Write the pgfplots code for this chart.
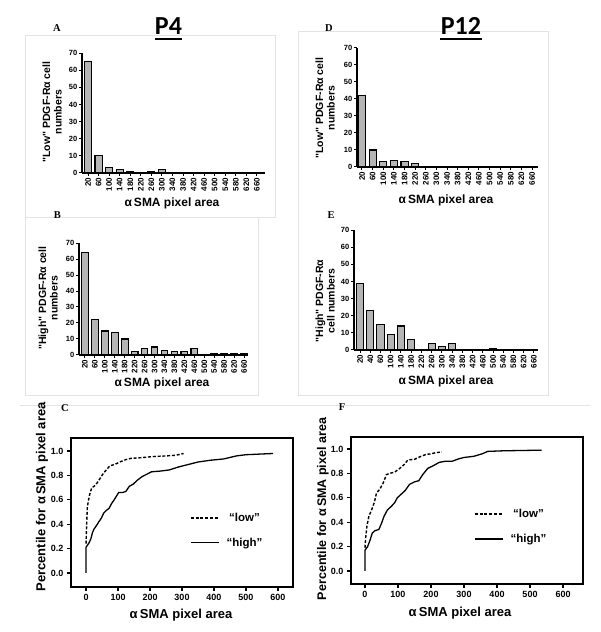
\documentclass[border=0pt]{standalone}
\usepackage{pgfplots}
\pgfplotsset{compat=1.18}
\usepackage{fontspec}
\setmainfont{Liberation Sans}
\newfontfamily\timesf{Liberation Serif}
\newfontfamily\calib{Carlito}
\newcommand\bt{\fontsize{7.5}{8}\selectfont\bfseries}
\newcommand\bx{\fontsize{8}{8}\selectfont\bfseries}
\newcommand\ct{\fontsize{9}{10}\selectfont\bfseries}
\newcommand\q{\textquotedbl}
\pgfplotsset{
 bars/.style={scale only axis, anchor=south west, ybar, bar width=0.67,
  ymin=0, ymax=70, ytick={0,10,...,70},
  axis lines=left, axis line style={-, line width=1.3pt},
  tick align=outside, major tick length=3pt, tick style={line width=1pt, black},
  xtick={0,...,16},
  x tick label style={rotate=90, anchor=east, font=\bx, inner sep=1.5pt},
  y tick label style={font=\bt, inner sep=1.5pt},
  /pgf/number format/assume math mode=true,
  xticklabels={20,60,100,140,180,220,260,300,340,380,420,460,500,540,580,620,660},
 },
 barfill/.style={fill=gray!58, draw=black, line width=1.1pt},
 cdf/.style={scale only axis, anchor=south west,
  axis line style={line width=1.5pt},
  xtick={0,100,...,600}, ytick={0,0.2,0.4,0.6,0.8,1.0},
  yticklabel style={/pgf/number format/fixed,/pgf/number format/fixed zerofill,/pgf/number format/precision=1},
  tick align=outside, xtick pos=bottom, ytick pos=left,
  major tick length=4pt, tick style={line width=1.2pt, black},
  tick label style={font=\ct},
  /pgf/number format/assume math mode=true,
  legend image code/.code={\draw[#1] (0pt,0pt) -- (28pt,0pt);},
  legend style={draw=none, fill=none, font=\fontsize{11.5}{12}\selectfont\bfseries,
   row sep=13pt, column sep=6pt, inner sep=0pt, nodes={inner sep=1pt}, anchor=north west},
 },
}
\begin{document}
\begin{tikzpicture}[x=1pt,y=1pt]
\useasboundingbox (0,0) rectangle (600,632);
% faint panel frames
\draw[gray!22, line width=0.6pt] (25,597) rectangle (275,415);
\draw[gray!22, line width=0.6pt] (25,415) -- (25,237) -- (258,237) -- (258,415);
\draw[gray!22, line width=0.6pt] (298,601) rectangle (548,237);
\draw[gray!22, line width=0.6pt] (20,227) -- (590,227);
% titles
\node[font=\calib\fontsize{26}{28}\selectfont\bfseries, anchor=base] at (168.5,597) {P4};
\draw[line width=2pt] (155,593) -- (182,593);
\node[font=\calib\fontsize{26}{28}\selectfont\bfseries, anchor=base] at (461,597) {P12};
\draw[line width=2pt] (440,593) -- (482,593);
% panel letters
\node[font=\timesf\fontsize{10.5}{11}\selectfont\bfseries] at (57,603.5) {A};
\node[font=\timesf\fontsize{10.5}{11}\selectfont\bfseries] at (329,604) {D};
\node[font=\timesf\fontsize{10.5}{11}\selectfont\bfseries] at (57.5,417) {B};
\node[font=\timesf\fontsize{10.5}{11}\selectfont\bfseries] at (331,417) {E};
\node[font=\timesf\fontsize{10.5}{11}\selectfont\bfseries] at (65,224) {C};
\node[font=\timesf\fontsize{10.5}{11}\selectfont\bfseries] at (342,225) {F};

% Panel A
\begin{axis}[bars, at={(82pt,459pt)}, width=183pt, height=120pt, xmin=-0.57, xmax=16.76]
\addplot[barfill] coordinates {(0,65) (1,10) (2,3) (3,2) (4,1) (6,1) (7,2)};
\end{axis}
\node[font=\fontsize{10.5}{11.5}\selectfont\bfseries, rotate=90, align=center] at (52,520) {\q Low\q{} PDGF-Rα cell\\numbers};
\node[font=\fontsize{12}{13}\selectfont\bfseries] at (172,429) {α\,SMA pixel area};

% Panel B
\begin{axis}[bars, at={(79pt,277pt)}, width=169pt, height=112pt, xmin=-0.6, xmax=16.4]
\addplot[barfill] coordinates {(0,64) (1,22) (2,15) (3,14) (4,10) (5,2) (6,4) (7,5) (8,3) (9,2) (10,2) (11,4) (13,1) (14,1) (15,1) (16,1)};
\end{axis}
\node[font=\fontsize{10.5}{11.5}\selectfont\bfseries, rotate=90, align=center] at (48,334) {\q High\q{} PDGF-Rα cell\\numbers};
\node[font=\fontsize{12}{13}\selectfont\bfseries] at (162,249) {α\,SMA pixel area};

% Panel D
\begin{axis}[bars, at={(357pt,465pt)}, width=181pt, height=119pt, xmin=-0.47, xmax=16.56]
\addplot[barfill] coordinates {(0,42) (1,10) (2,3) (3,4) (4,3) (5,2)};
\end{axis}
\node[font=\fontsize{10.5}{11.5}\selectfont\bfseries, rotate=90, align=center] at (325,524) {\q Low\q{} PDGF-Rα cell\\numbers};
\node[font=\fontsize{12}{13}\selectfont\bfseries] at (446,432) {α\,SMA pixel area};

% Panel E
\begin{axis}[bars, at={(354pt,282pt)}, width=184pt, height=120pt, xmin=-0.59, xmax=17.4, bar width=0.7,
  xtick={0,...,17}, xticklabels={20,40,60,100,140,180,220,260,300,340,380,420,460,500,540,580,620,660}]
\addplot[barfill] coordinates {(0,39) (1,23) (2,15) (3,9) (4,14) (5,6) (7,4) (8,2) (9,4) (13,1)};
\end{axis}
\node[font=\fontsize{10.5}{11.5}\selectfont\bfseries, rotate=90, align=center] at (325,331) {\q High\q{} PDGF-Rα\\cell numbers};
\node[font=\fontsize{12}{13}\selectfont\bfseries] at (446,251) {α\,SMA pixel area};

% Panel C
\begin{axis}[cdf, at={(71pt,45pt)}, width=222pt, height=149pt, xmin=-47, xmax=647, ymin=-0.115, ymax=1.107,
  legend style={at={(axis description cs:0.536,0.505)}}]
\addplot[black, line width=1.4pt, dash pattern=on 3pt off 1.8pt] coordinates {
(0,0.24) (2,0.40) (4,0.54) (8,0.60) (12,0.65) (18,0.70) (25,0.71) (35,0.74) (45,0.78) (55,0.82) (65,0.85) (75,0.88) (90,0.89) (105,0.91) (125,0.93) (140,0.94) (170,0.945) (210,0.955) (250,0.96) (280,0.965) (305,0.98)};
\addlegendentry{“low”}
\addplot[black, line width=1.3pt] coordinates {
(0,0.0) (0,0.21) (5,0.23) (10,0.25) (15,0.28) (20,0.33) (25,0.36) (33,0.39) (40,0.42) (48,0.45) (55,0.49) (62,0.51) (72,0.53) (80,0.57) (88,0.60) (95,0.63) (102,0.66) (115,0.66) (125,0.67) (135,0.71) (148,0.73) (160,0.76) (175,0.79) (190,0.81) (205,0.83) (230,0.835) (260,0.845) (290,0.87) (320,0.89) (350,0.91) (390,0.925) (430,0.935) (470,0.96) (500,0.97) (585,0.98)};
\addlegendentry{“high”}
\end{axis}
\node[font=\fontsize{13}{14}\selectfont\bfseries, rotate=90] at (42,135) {Percentile for α\,SMA pixel area};
\node[font=\fontsize{13}{14}\selectfont\bfseries] at (181,17) {α\,SMA pixel area};

% Panel F
\begin{axis}[cdf, at={(351pt,48pt)}, width=232pt, height=147pt, xmin=-42.4, xmax=660.6, ymin=-0.107, ymax=1.098,
  legend style={at={(axis description cs:0.53,0.517)}}]
\addplot[black, line width=1.4pt, dash pattern=on 3pt off 1.8pt] coordinates {
(0,0.19) (2,0.27) (6,0.37) (12,0.45) (20,0.50) (28,0.56) (35,0.64) (45,0.67) (55,0.72) (65,0.79) (75,0.80) (90,0.81) (105,0.84) (118,0.87) (130,0.91) (150,0.915) (170,0.94) (185,0.955) (200,0.96) (215,0.97) (233,0.975)};
\addlegendentry{“low”}
\addplot[black, line width=1.3pt] coordinates {
(0,0.0) (0,0.17) (8,0.20) (15,0.25) (22,0.31) (30,0.33) (42,0.34) (50,0.39) (58,0.45) (68,0.50) (80,0.53) (90,0.56) (98,0.60) (110,0.63) (122,0.66) (135,0.71) (150,0.73) (163,0.74) (175,0.79) (190,0.84) (205,0.86) (225,0.89) (245,0.90) (265,0.90) (285,0.92) (300,0.93) (330,0.94) (355,0.96) (372,0.98) (420,0.985) (535,0.99)};
\addlegendentry{“high”}
\end{axis}
\node[font=\fontsize{12.5}{13.5}\selectfont\bfseries, rotate=90] at (323,123) {Percentile for α\,SMA pixel area};
\node[font=\fontsize{13}{14}\selectfont\bfseries] at (460,19) {α\,SMA pixel area};
\end{tikzpicture}
\end{document}
